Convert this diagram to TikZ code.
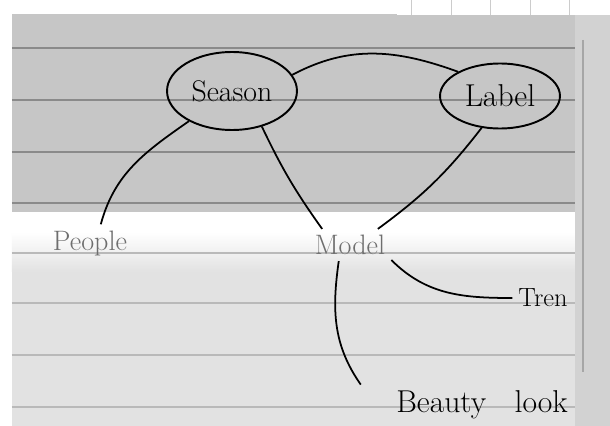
\documentclass[tikz,border=0pt]{standalone}
\usepackage{tikz}
\usetikzlibrary{shapes.geometric,positioning}
\definecolor{PaperGrey}{HTML}{C6C6C6}
\definecolor{PaperLight}{HTML}{E2E2E2}
\definecolor{PageGrey}{HTML}{D2D2D2}
\definecolor{RuleGrey}{HTML}{8A8A8A}
\definecolor{Pencil}{HTML}{6E6E6E}

\begin{document}
\begin{tikzpicture}[x=0.02cm,y=-0.02cm,
    bubble/.style={ellipse,draw,line width=1.1pt,inner sep=0pt},
    word/.style={font=\fontsize{16}{18}\selectfont},
    link/.style={line width=1pt},
    ruled/.style={RuleGrey,line width=0.8pt},
    faintrule/.style={gray!55,line width=0.6pt}]
  \useasboundingbox (0,0) rectangle (610,426);
  % sheet and page behind it
  \fill[white] (0,0) rectangle (610,426);
  \fill[PageGrey] (575,14) rectangle (610,426);
  \fill[PaperGrey] (12,14) rectangle (575,212);
  \fill[PaperLight] (12,272) rectangle (575,426);
  \shade[top color=white,bottom color=PaperLight] (12,232) rectangle (575,272);
  \fill[white] (397,0) rectangle (610,15);
  \foreach \gx in {411,451,490,530,569}
    \draw[gray!40] (\gx,0) -- (\gx,15);
  \draw[gray!70,line width=1pt] (583,40) -- (583,372);
  \foreach \ry in {48,100,152,203}
    \draw[ruled] (12,\ry) -- (575,\ry);
  \foreach \ry in {253,303,355,407}
    \draw[faintrule] (12,\ry) -- (575,\ry);

  \node[bubble,minimum width=2.6cm,minimum height=1.56cm,word,font=\fontsize{17}{19}\selectfont] (season) at (232,91) {Season};
  \node[bubble,minimum width=2.4cm,minimum height=1.3cm,word,font=\fontsize{18}{20}\selectfont] (label) at (500,96) {Label};
  \node[word,text=Pencil] (people) at (90,243) {People};
  \node[word,text=Pencil] (model) at (350,245) {Model};
  \node[word,font=\fontsize{15}{17}\selectfont] (tren) at (543,298) {Tren};
  \node[word,font=\fontsize{18}{20}\selectfont,inner xsep=20pt] (beauty) at (482,405) {Beauty\hspace{0.9em}look};

  \draw[link] (season.15) to[out=28,in=160] (label.150);
  \draw[link] (season.215) to[out=215,in=75] (people.60);
  \draw[link] (season.310) to[bend right=5] (model.150);
  \draw[link] (label.240) to[bend left=8] (model.30);
  \draw[link] (model.-20) to[out=-45,in=180] (tren.west);
  \draw[link] (model.235) to[out=262,in=125] (beauty.north west);
\end{tikzpicture}
\end{document}
